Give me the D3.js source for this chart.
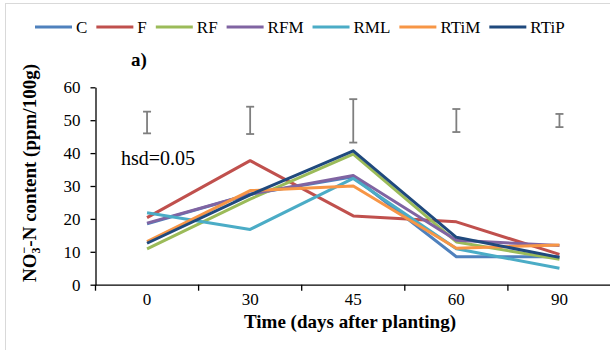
<!DOCTYPE html>
<html>
<head>
<meta charset="utf-8">
<script src="https://cdn.jsdelivr.net/npm/d3@7"></script>
<style>
body { margin: 0; background: #fff; }
svg { display: block; }
</style>
</head>
<body>
<script>
var days = ["0", "30", "45", "60", "90"];
var seriesNames = ["C", "F", "RF", "RFM", "RML", "RTiM", "RTiP"];
var seriesColors = ["#4f81bd", "#c0504d", "#9bbb59", "#8064a2", "#4bacc6", "#f79646", "#1f497d"];
var valC    = [18.5, 27.5, 32.8, 8.5, 8.5];
var valF    = [20.4, 37.7, 20.9, 19.1, 9.2];
var valRF   = [10.9, 26.0, 39.7, 13.0, 7.7];
var valRFM  = [18.7, 27.5, 33.2, 13.5, 11.9];
var valRML  = [21.9, 16.8, 32.3, 10.9, 5.0];
var valRTiM = [13.1, 28.6, 30.0, 11.1, 12.1];
var valRTiP = [12.6, 27.3, 40.7, 14.4, 8.3];
var hsdLow  = [46.0, 45.8, 43.2, 46.4, 47.9];
var hsdHigh = [52.6, 54.1, 56.4, 53.4, 51.9];
var yTicks = [0, 10, 20, 30, 40, 50, 60];

var allValues = [valC, valF, valRF, valRFM, valRML, valRTiM, valRTiP];
var series = seriesNames.map(function(n, i) {
  return { name: n, color: seriesColors[i], values: allValues[i] };
});

var FONT = "'Liberation Serif', 'Times New Roman', Times, serif";
var W = 610, H = 350;
var svg = d3.select("body").append("svg").attr("width", W).attr("height", H)
  .attr("font-family", FONT);

// light frame
svg.append("rect").attr("x", 5.5).attr("y", 3.5).attr("width", 620).attr("height", 360)
  .attr("fill", "none").attr("stroke", "#d9d9d9").attr("stroke-width", 1);

var x = d3.scaleBand().domain(days).range([95.5, 611]).padding(0);
var y = d3.scaleLinear().domain([0, 60]).range([284.7, 87.3]);
var xc = function(d) { return x(d) + x.bandwidth() / 2; };

// axes
var yAxis = d3.axisLeft(y).tickValues(yTicks).tickSize(5).tickPadding(10).tickSizeOuter(0);
var gy = svg.append("g").attr("transform", "translate(95.5,0)").call(yAxis);
gy.attr("font-family", FONT);
gy.select(".domain").attr("stroke", "#000").attr("stroke-width", 1.3);
gy.selectAll(".tick line").attr("stroke", "#000").attr("stroke-width", 1.3);
gy.selectAll(".tick text").attr("font-size", 17).attr("fill", "#000");

var xAxis = d3.axisBottom(x).tickSize(0).tickPadding(8);
var gx = svg.append("g").attr("transform", "translate(0," + y(0) + ")").call(xAxis);
gx.attr("font-family", FONT);
gx.select(".domain").attr("stroke", "#000").attr("stroke-width", 1.3);
gx.selectAll(".tick text").attr("font-size", 17).attr("fill", "#000");
// tick marks at category boundaries
var bounds = days.map(function(d) { return x(d); }).concat([x(days[days.length - 1]) + x.bandwidth()]);
gx.selectAll("line.bnd").data(bounds).enter().append("line").attr("class", "bnd")
  .attr("x1", function(d) { return d; }).attr("x2", function(d) { return d; })
  .attr("y1", 0).attr("y2", 6).attr("stroke", "#000").attr("stroke-width", 1.3);

// hsd bars
var eb = svg.append("g").attr("stroke", "#7f7f7f").attr("stroke-width", 1.8).attr("fill", "none");
days.forEach(function(d, i) {
  var cx = xc(d);
  eb.append("line").attr("x1", cx).attr("x2", cx).attr("y1", y(hsdLow[i])).attr("y2", y(hsdHigh[i]));
  eb.append("line").attr("x1", cx - 4).attr("x2", cx + 4).attr("y1", y(hsdLow[i])).attr("y2", y(hsdLow[i]));
  eb.append("line").attr("x1", cx - 4).attr("x2", cx + 4).attr("y1", y(hsdHigh[i])).attr("y2", y(hsdHigh[i]));
});

// lines
var line = d3.line().x(function(d, i) { return xc(days[i]); }).y(function(d) { return y(d); });
svg.selectAll("path.series").data(series).enter().append("path").attr("class", "series")
  .attr("d", function(d) { return line(d.values); })
  .attr("fill", "none").attr("stroke", function(d) { return d.color; })
  .attr("stroke-width", 3).attr("stroke-linejoin", "round");

// texts
svg.append("text").attr("x", 121).attr("y", 165).attr("font-size", 20).text("hsd=0.05");
svg.append("text").attr("x", 131).attr("y", 66).attr("font-size", 19).attr("font-weight", "bold").text("a)");
svg.append("text").attr("x", 350).attr("y", 328).attr("text-anchor", "middle")
  .attr("font-size", 19).attr("font-weight", "bold").text("Time (days after planting)");

var yl = svg.append("text").attr("transform", "translate(36,173) rotate(-90)")
  .attr("text-anchor", "middle").attr("font-size", 19).attr("font-weight", "bold");
yl.append("tspan").text("NO");
yl.append("tspan").attr("dy", 4).attr("font-size", 12).text("3");
yl.append("tspan").attr("dx", -6).attr("dy", -12).attr("font-size", 12).text("\u2212");
yl.append("tspan").attr("dy", 8).text("-N content (ppm/100g)");

// legend
var lg = svg.append("g");
var lx = 35;
series.forEach(function(s) {
  lg.append("line").attr("x1", lx).attr("x2", lx + 37).attr("y1", 27).attr("y2", 27)
    .attr("stroke", s.color).attr("stroke-width", 3);
  var t = lg.append("text").attr("x", lx + 41).attr("y", 33).attr("font-size", 17).text(s.name);
  lx += 41 + t.node().getComputedTextLength() + 9;
});
</script>
</body>
</html>
